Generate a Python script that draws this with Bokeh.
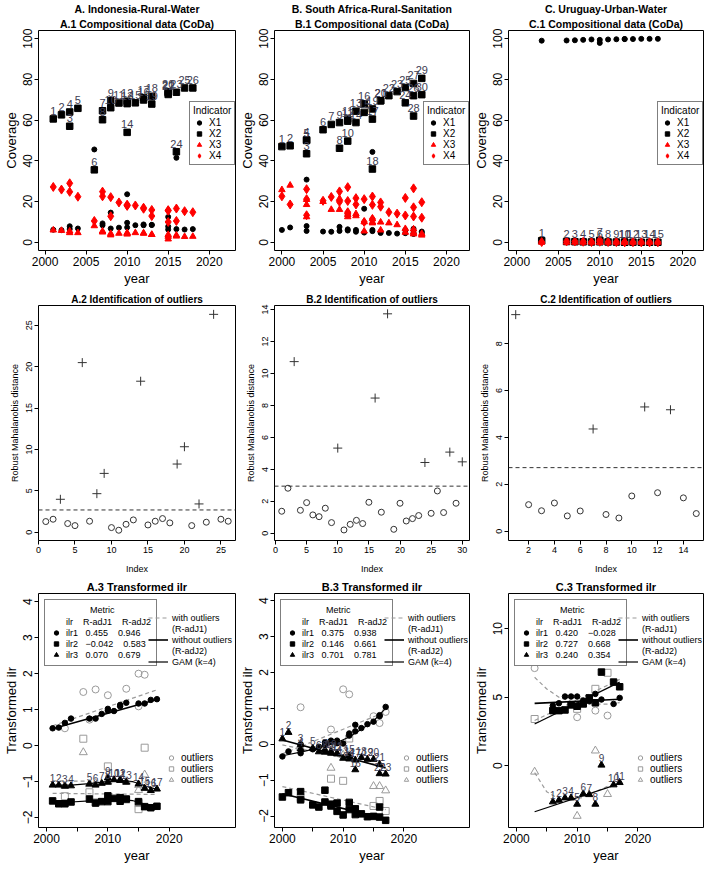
from bokeh.plotting import figure
from bokeh.layouts import gridplot
from bokeh.models import Range1d, Legend, LegendItem, Title, Span
from bokeh.embed import file_html
from bokeh.resources import INLINE
from bokeh.core.properties import value

FONT = "Liberation Sans"
LABEL_COL = "#3d3d52"
RED = "#ff0000"
GRAY = "#9a9a9a"
DARK = "#333333"

# ======================= DATA =======================
# ---------- Row 1: compositional data (coverage, %) ----------
A_year = [2001, 2002, 2003, 2003, 2004, 2006, 2007, 2007, 2008, 2008, 2009, 2010, 2010,
          2010, 2011, 2012, 2012, 2013, 2013, 2015, 2015, 2015, 2016, 2016, 2017, 2018]
A_X1 = [6.2, 6.0, 7.9, 6.5, 6.8, 45.6, 9.3, 8.4, 6.8, 14.6, 7.2, 7.3, 9.6,
        23.6, 8.4, 8.4, 8.8, 8.6, 8.5, 6.3, 7.8, 12.5, 6.5, 41.5, 6.3, 6.5]
A_X2 = [60.6, 62.6, 57.0, 64.0, 65.8, 35.6, 64.6, 60.2, 69.5, 66.1, 68.4, 69.3, 68.1,
        54.0, 68.5, 69.9, 71.0, 71.7, 67.9, 74.0, 73.4, 72.6, 73.7, 44.5, 75.8, 75.8]
A_X3 = [6.0, 5.8, 5.5, 4.7, 4.7, 8.1, 5.0, 5.5, 4.3, 3.6, 4.4, 4.7, 4.4,
        4.0, 4.7, 4.6, 4.4, 3.8, 3.8, 2.9, 1.6, 3.8, 3.5, 3.0, 2.8, 2.9]
A_X4 = [27.2, 25.9, 29.0, 24.8, 22.4, 10.5, 22.6, 24.9, 22.2, 12.8, 19.6, 18.5, 17.9,
        18.1, 18.1, 17.0, 16.5, 15.9, 12.9, 15.8, 15.5, 10.0, 16.6, 10.5, 15.3, 14.8]

B_year = [2000, 2001, 2003, 2003, 2003, 2005, 2006, 2007, 2007, 2008, 2008, 2008, 2009, 2009, 2010,
          2010, 2011, 2011, 2011, 2012, 2012, 2013, 2014, 2015, 2015, 2016, 2016, 2016, 2017, 2017]
B_X1 = [6.1, 7.3, 30.8, 8.0, 5.6, 5.3, 5.2, 7.6, 5.6, 6.4, 5.8, 13.3, 5.2, 6.1, 4.8,
        16.5, 5.5, 44.4, 6.1, 5.2, 4.6, 4.6, 4.3, 6.1, 4.5, 4.6, 4.1, 6.7, 4.6, 5.3]
B_X2 = [47.0, 47.4, 43.5, 50.3, 50.0, 55.3, 57.9, 46.2, 58.8, 49.7, 60.5, 59.5, 64.4, 58.8, 63.8,
        68.0, 60.5, 36.0, 65.5, 69.5, 69.5, 72.0, 74.0, 68.5, 76.0, 72.0, 78.0, 62.0, 80.5, 72.5]
B_X3 = [25.8, 28.0, 12.5, 21.0, 18.5, 20.0, 16.1, 21.5, 16.1, 14.8, 13.6, 12.5, 13.0, 14.0, 10.0,
        5.5, 11.5, 9.5, 10.0, 6.0, 9.9, 9.5, 8.6, 4.9, 6.7, 6.5, 4.9, 4.1, 3.5, 4.3]
B_X4 = [22.6, 18.6, 13.3, 21.2, 26.1, 20.4, 22.3, 25.0, 19.9, 27.1, 20.3, 14.8, 18.6, 21.7, 21.2,
        10.0, 22.5, 11.5, 18.4, 19.6, 17.5, 14.8, 14.1, 21.8, 13.2, 17.2, 12.7, 26.5, 12.1, 19.7]

C_year = [2003, 2006, 2007, 2008, 2009, 2010, 2010, 2011, 2012, 2013, 2013, 2014, 2015, 2016, 2017]
C_X1 = [99.0, 99.1, 99.2, 99.4, 99.6, 99.4, 97.9, 99.6, 99.7, 99.8, 99.8, 99.8, 99.9, 99.9, 99.9]
C_X2 = [0.8, 0.4, 0.3, 0.25, 0.2, 0.25, 1.0, 0.2, 0.15, 0.1, 0.1, 0.1, 0.05, 0.05, 0.05]
C_X3 = [0.05, 0.05, 0.04, 0.04, 0.03, 0.03, 0.05, 0.03, 0.02, 0.02, 0.02, 0.02, 0.02, 0.02, 0.02]
C_X4 = [0.15, 0.45, 0.46, 0.31, 0.17, 0.32, 1.05, 0.17, 0.13, 0.08, 0.08, 0.08, 0.03, 0.03, 0.03]

# ---------- Row 2: robust Mahalanobis distances ----------
A_md = [1.29, 1.57, 3.98, 1.05, 0.80, 20.5, 1.33, 4.66, 7.11, 0.56, 0.24, 0.96, 1.49,
        18.25, 0.88, 1.33, 1.65, 1.13, 8.24, 10.33, 0.80, 3.42, 1.21, 26.33, 1.57, 1.33]
A_out = [3, 6, 8, 9, 14, 19, 20, 22, 24]
A_cut = 2.69
B_md = [1.38, 2.82, 10.74, 1.44, 1.92, 1.15, 1.04, 1.57, 0.67, 5.33, 0.21, 0.56, 0.81, 0.61, 1.94,
        8.46, 1.32, 13.73, 0.25, 1.88, 0.77, 0.92, 1.11, 4.43, 1.25, 2.65, 1.30, 5.08, 1.88, 4.47]
B_out = [3, 10, 16, 18, 24, 28, 30]
B_cut = 2.95
C_md = [9.24, 1.13, 0.87, 1.20, 0.65, 0.86, 4.36, 0.71, 0.56, 1.50, 5.30, 1.64, 5.18, 1.42, 0.75]
C_out = [1, 7, 11, 13]
C_cut = 2.71

# ---------- Row 3: transformed ilr ----------
A3_year = [2001, 2002, 2003, 2004, 2007, 2008, 2009, 2010, 2010, 2011, 2012, 2012, 2013, 2015, 2016, 2017, 2018]
A3_ilr1 = [0.48, 0.50, 0.63, 0.75, 0.75, 0.75, 0.88, 0.97, 1.02, 0.96, 1.09, 1.13, 1.19, 1.17, 1.17, 1.27, 1.29]
A3_ilr2 = [-1.54, -1.62, -1.62, -1.57, -1.49, -1.60, -1.56, -1.40, -1.56, -1.47, -1.45, -1.55, -1.49, -1.56, -1.70, -1.73, -1.69]
A3_ilr3 = [-1.10, -1.10, -1.13, -1.12, -1.07, -1.10, -1.05, -1.02, -0.90, -0.95, -0.95, -0.97, -1.02, -1.07, -1.19, -1.25, -1.21]
A3o_year = [2003, 2006, 2007, 2008, 2010, 2013, 2015, 2015, 2016]
A3o_ilr1 = [0.48, 1.49, 0.72, 1.56, 1.40, 1.58, 1.09, 2.00, 1.97]
A3o_ilr2 = [-1.41, 0.19, -1.30, -1.58, -0.58, -1.50, -1.77, -1.60, -0.06]
A3o_ilr3 = [-1.12, -0.19, -1.08, -1.05, -1.00, -1.00, -1.24, -1.10, -0.81]
A3_adj1 = [0.455, -0.042, 0.070]
A3_adj2 = [0.946, 0.583, 0.679]
A3_fit_x = [2001, 2018]
A3_ilr1_dash = [0.55, 1.55]
A3_ilr1_lm = [0.47, 1.28]
A3_ilr2_dash = [-1.33, -1.36]
A3_ilr3_dash = [-0.98, -1.02]
A3_gam_x = [2001, 2004, 2007, 2010, 2012, 2014, 2016, 2018]
A3_ilr2_gam = [-1.58, -1.57, -1.54, -1.51, -1.50, -1.53, -1.63, -1.72]
A3_ilr3_gam = [-1.10, -1.10, -1.06, -1.00, -0.97, -1.00, -1.12, -1.22]

B3_year = [2000, 2001, 2003, 2003, 2005, 2006, 2007, 2007, 2008, 2008, 2009, 2009, 2010, 2011, 2011,
           2012, 2012, 2013, 2014, 2015, 2016, 2016, 2017]
B3_ilr1 = [-0.34, -0.20, -0.25, 0.00, -0.14, -0.07, 0.05, -0.02, 0.10, 0.06, 0.10, 0.03, 0.02, 0.24, 0.30,
           0.36, 0.54, 0.45, 0.56, 0.63, 0.81, 0.78, 1.04]
B3_ilr2 = [-1.47, -1.35, -1.32, -1.55, -1.69, -1.75, -1.28, -1.61, -1.67, -1.72, -1.64, -1.87, -1.97, -1.62, -1.82,
           -1.80, -1.96, -1.94, -2.02, -2.01, -2.03, -1.75, -2.12]
B3_ilr3 = [0.15, 0.33, -0.01, -0.13, -0.11, -0.21, -0.15, -0.22, -0.25, -0.20, -0.27, -0.25, -0.39, -0.41, -0.33,
           -0.71, -0.44, -0.37, -0.42, -0.42, -0.56, -0.82, -0.83]
B3o_year = [2003, 2008, 2010, 2011, 2015, 2016, 2017]
B3o_ilr1 = [1.03, 0.41, 1.53, 1.39, 0.78, 0.59, 0.90]
B3o_ilr2 = [-1.50, -0.96, -1.02, 0.16, -1.72, -1.58, -1.86]
B3o_ilr3 = [-0.10, -0.66, -0.30, -0.30, -1.17, -1.17, -1.29]
B3_adj1 = [0.375, 0.146, 0.701]
B3_adj2 = [0.938, 0.661, 0.781]
B3_fit_x = [2000, 2017]
B3_ilr1_dash = [-0.27, 0.90]
B3_gam_x = [2000, 2003, 2006, 2009, 2011, 2013, 2015, 2017]
B3_ilr1_gam = [-0.32, -0.22, -0.10, 0.05, 0.20, 0.42, 0.65, 1.00]
B3_ilr2_dash = [-1.18, -1.82]
B3_ilr2_lm = [-1.38, -2.08]
B3_ilr3_dash = [-0.02, -0.62]
B3_ilr3_lm = [0.12, -0.66]

C3_year = [2006, 2007, 2008, 2009, 2010, 2011, 2012, 2013, 2014, 2016, 2017]
C3_ilr1 = [4.39, 4.56, 5.05, 5.05, 5.05, 4.76, 4.70, 5.24, 4.83, 4.51, 4.95]
C3_ilr2 = [4.02, 4.02, 4.07, 4.44, 4.34, 4.51, 4.95, 4.59, 6.83, 6.10, 5.76]
C3_ilr3 = [-2.63, -2.51, -2.34, -2.34, -2.80, -2.05, -2.10, -2.80, 0.05, -1.39, -1.22]
C3o_year = [2003, 2010, 2013, 2015]
C3o_ilr1 = [7.12, 3.54, 4.02, 3.66]
C3o_ilr2 = [3.41, 4.15, 5.61, 6.78]
C3o_ilr3 = [-0.44, -3.66, 1.10, -2.07]
C3_adj1 = [0.420, 0.727, 0.240]
C3_adj2 = [-0.028, 0.668, 0.354]
C3_fit_x = [2003, 2017]
C3_curve_x = [2003, 2005, 2007, 2009, 2011, 2013, 2015, 2017]
C3_ilr1_dash = [6.45, 5.60, 5.00, 4.70, 4.55, 4.50, 4.50, 4.60]
C3_ilr1_lm = [4.55, 4.85]
C3_ilr2_dash = [3.30, 6.30]
C3_ilr2_lm = [3.05, 6.10]
C3_ilr3_dash = [-0.50, -1.90, -2.40, -2.50, -2.30, -1.90, -1.50, -1.20]
C3_ilr3_lm = [-3.35, -1.30]

# tick positions
YEAR_TICKS_1 = [2000, 2005, 2010, 2015, 2020]
COVER_TICKS = [0, 20, 40, 60, 80, 100]
YEAR_TICKS_3 = [2000, 2005, 2010, 2015, 2020]

# ======================= LAYOUT =======================
W = [236, 234, 234]
LB, RB = 36, 1
ROW_H = [288, 288, 289]
TOP = [28, 17, 17]
BOT = 36


def make_fig(col, row, xr, yr, titles, title_px):
    p = figure(width=W[col], height=ROW_H[row], x_range=Range1d(*xr), y_range=Range1d(*yr),
               output_backend="svg", toolbar_location=None, tools="",
               min_border_left=LB, min_border_right=RB, min_border_top=TOP[row],
               min_border_bottom=BOT, background_fill_color="white", border_fill_color="white")
    # first title line is the figure title; further lines are stacked below it (closer to the frame)
    p.title.text = titles[0]
    p.title.align = "center"
    p.title.text_font = FONT
    p.title.text_font_size = f"{title_px}px"
    p.title.text_font_style = "bold"
    p.title.text_color = "black"
    p.title.standoff = 0 if len(titles) > 1 else 2
    for t in titles[1:]:
        p.add_layout(Title(text=t, align="center", text_font=FONT, text_font_size=f"{title_px}px",
                           text_font_style="bold", text_color="black", standoff=2), "above")
    p.xgrid.visible = False
    p.ygrid.visible = False
    p.outline_line_color = "black"
    p.outline_line_alpha = 1.0
    p.outline_line_width = 1
    return p


def style_axes(p, tick_px, lab_px, xlabel, ylabel, xticks, yticks, xover=None, lab_standoff=2):
    for ax in (p.xaxis[0], p.yaxis[0]):
        ax.axis_line_color = None
        ax.major_tick_line_color = "black"
        ax.major_tick_out = 4
        ax.major_tick_in = 0
        ax.minor_tick_line_color = None
        ax.major_label_text_font = FONT
        ax.major_label_text_font_size = f"{tick_px}px"
        ax.major_label_text_color = "black"
        ax.axis_label_text_font = FONT
        ax.axis_label_text_font_size = f"{lab_px}px"
        ax.axis_label_text_font_style = "normal"
        ax.axis_label_text_color = "black"
        ax.major_label_standoff = 2
        ax.axis_label_standoff = lab_standoff
    p.xaxis.ticker = xticks
    p.yaxis.ticker = yticks
    p.yaxis.major_label_orientation = "vertical"
    if xover:
        p.xaxis.major_label_overrides = xover
    p.xaxis.axis_label = xlabel
    p.yaxis.axis_label = ylabel


def style_legend(lg, px, border=True):
    lg.label_text_font = FONT
    lg.label_text_font_size = f"{px}px"
    lg.label_text_color = "black"
    lg.title_text_font = FONT
    lg.title_text_font_size = f"{px}px"
    lg.title_text_font_style = "normal"
    lg.title_text_color = "black"
    lg.border_line_color = "black" if border else None
    lg.background_fill_alpha = 1.0 if border else 0.0
    lg.padding = 3
    lg.spacing = 0
    lg.margin = 0
    lg.glyph_width = 12
    lg.glyph_height = 11
    lg.label_height = 11
    lg.label_standoff = 4
    lg.title_standoff = 1


def coda_panel(col, year, X1, X2, X3, X4, titles, xr):
    p = make_fig(col, 0, xr, (-4, 104), titles, 10.5)
    style_axes(p, 12, 13, "year", "Coverage", YEAR_TICKS_1, COVER_TICKS)
    r1 = p.scatter(year, X1, marker="circle", size=5, color="black")
    r2 = p.scatter(year, X2, marker="square", size=6.5, color="black")
    r3 = p.scatter(year, X3, marker="triangle", size=6.5, color=RED)
    r4 = p.scatter(year, X4, marker="diamond", size=9, color=RED)
    labels = [str(i + 1) for i in range(len(year))]
    p.text(x=year, y=X2, text=labels, text_font=value(FONT), text_font_size="11px",
           text_color=LABEL_COL, text_align="center", text_baseline="bottom", y_offset=-4)
    fw = W[col] - LB - RB
    fh = ROW_H[0] - TOP[0] - BOT
    lg = Legend(items=[LegendItem(label="X1", renderers=[r1]), LegendItem(label="X2", renderers=[r2]),
                       LegendItem(label="X3", renderers=[r3]), LegendItem(label="X4", renderers=[r4])],
                title="Indicator", location=(fw - 48, int(fh * 0.38)))
    style_legend(lg, 10)
    p.add_layout(lg)
    return p


def md_panel(col, md, outl, cut, xr, yr, xticks, yticks, title):
    p = make_fig(col, 1, xr, yr, [title], 10)
    style_axes(p, 9, 9, "Index", "Robust Mahalanobis distance", xticks, yticks, lab_standoff=8)
    p.yaxis.axis_label_standoff = 4
    idx = list(range(1, len(md) + 1))
    in_x = [i for i in idx if i not in outl]
    out_x = [i for i in idx if i in outl]
    p.add_layout(Span(location=cut, dimension="width", line_dash="4 3", line_color=DARK, line_width=1))
    p.scatter(in_x, [md[i - 1] for i in in_x], marker="circle", size=6, fill_color=None,
              line_color=DARK, line_width=1)
    p.scatter(out_x, [md[i - 1] for i in out_x], marker="cross", size=9, line_color=DARK, line_width=1)
    return p


def fmt(v):
    s = f"{v:.3f}"
    return s.replace("-", "\u2212")


def ilr_panel(col, yr, yticks, title, fy, f1, f2, f3, oy, o1, o2, o3, adj1, adj2, dashes, solids):
    p = make_fig(col, 2, (1998.7, 2030.8), yr, [title], 11)
    style_axes(p, 12, 13, "year", "Transformed ilr", yticks[0], yticks[1],
               xover={2005: "", 2015: ""})
    dash_r = []
    for xs, ys in dashes:
        dash_r.append(p.line(xs, ys, line_color=GRAY, line_dash="4 3", line_width=1.2))
    g1 = p.scatter(oy, o1, marker="circle", size=7, fill_color=None, line_color=GRAY, line_width=1)
    g2 = p.scatter(oy, o2, marker="square", size=7, fill_color=None, line_color=GRAY, line_width=1)
    g3 = p.scatter(oy, o3, marker="triangle", size=8, fill_color=None, line_color=GRAY, line_width=1)
    thick_r, thin_r = [], []
    for xs, ys, lw in solids:
        rr = p.line(xs, ys, line_color="black", line_width=lw)
        (thick_r if lw > 1.4 else thin_r).append(rr)
    r1 = p.scatter(fy, f1, marker="circle", size=5.5, color="black")
    r2 = p.scatter(fy, f2, marker="square", size=6.5, color="black")
    r3 = p.scatter(fy, f3, marker="triangle", size=7, color="black")
    labels = [str(i + 1) for i in range(len(fy))]
    p.text(x=fy, y=f3, text=labels, text_font=value(FONT), text_font_size="10px",
           text_color=LABEL_COL, text_align="center", text_baseline="bottom", y_offset=-3)

    fw = W[col] - LB - RB
    fh = ROW_H[2] - TOP[2] - BOT
    nb = "\u00a0"
    blank = p.scatter([], [], marker="circle", size=1, fill_alpha=0, line_alpha=0)
    items = [LegendItem(label="ilr" + nb * 4 + "R-adJ1" + nb * 4 + "R-adJ2", renderers=[blank])]
    for k, r in enumerate((r1, r2, r3)):
        items.append(LegendItem(label=f"ilr{k + 1}" + nb * 3 + fmt(adj1[k]) + nb * 4 + fmt(adj2[k]),
                                renderers=[r]))
    mt = Legend(items=items, title=nb * 16 + "Metric", location="top_left")
    style_legend(mt, 9)
    mt.margin = 6
    mt.padding = 5
    p.add_layout(mt)

    ln = Legend(items=[LegendItem(label="with outliers", renderers=[dash_r[0]]),
                       LegendItem(label="(R-adJ1)", renderers=[blank]),
                       LegendItem(label="without outliers", renderers=[thick_r[0]]),
                       LegendItem(label="(R-adJ2)", renderers=[blank]),
                       LegendItem(label="GAM (k=4)", renderers=[thin_r[0]])],
                location=(110, fh - 76))
    style_legend(ln, 9, border=False)
    ln.glyph_width = 20
    p.add_layout(ln)

    lo = Legend(items=[LegendItem(label="outliers", renderers=[g1]),
                       LegendItem(label="outliers", renderers=[g2]),
                       LegendItem(label="outliers", renderers=[g3])],
                location=(int(fw * 0.64), 42))
    style_legend(lo, 10, border=False)
    p.add_layout(lo)
    return p


# ---------- Row 1 ----------
pA1 = coda_panel(0, A_year, A_X1, A_X2, A_X3, A_X4,
                 ["A. Indonesia-Rural-Water", "A.1 Compositional data (CoDa)"], (1999.2, 2023.2))
pB1 = coda_panel(1, B_year, B_X1, B_X2, B_X3, B_X4,
                 ["B. South Africa-Rural-Sanitation", "B.1 Compositional data (CoDa)"], (1999.1, 2022.8))
pC1 = coda_panel(2, C_year, C_X1, C_X2, C_X3, C_X4,
                 ["C. Uruguay-Urban-Water", "C.1 Compositional data (CoDa)"], (1999.0, 2022.5))

# ---------- Row 2 ----------
pA2 = md_panel(0, A_md, A_out, A_cut, (0, 27), (-1.0, 27.4), [0, 5, 10, 15, 20, 25], [0, 5, 10, 15, 20, 25],
               "A.2 Identification of outliers")
pB2 = md_panel(1, B_md, B_out, B_cut, (-0.16, 31.16), (-0.45, 14.25), [0, 5, 10, 15, 20, 25, 30],
               [0, 2, 4, 6, 8, 10, 12, 14], "B.2 Identification of outliers")
pC2 = md_panel(2, C_md, C_out, C_cut, (0.44, 15.56), (-0.4, 9.63), [2, 4, 6, 8, 10, 12, 14],
               [0, 2, 4, 6, 8], "C.2 Identification of outliers")

# ---------- Row 3 ----------
pA3 = ilr_panel(0, (-2.28, 4.23), (YEAR_TICKS_3, [-2, -1, 0, 1, 2, 3, 4]), "A.3 Transformed ilr",
                A3_year, A3_ilr1, A3_ilr2, A3_ilr3, A3o_year, A3o_ilr1, A3o_ilr2, A3o_ilr3,
                A3_adj1, A3_adj2,
                [(A3_fit_x, A3_ilr1_dash), (A3_fit_x, A3_ilr2_dash), (A3_fit_x, A3_ilr3_dash)],
                [(A3_fit_x, A3_ilr1_lm, 1.6), (A3_gam_x, A3_ilr2_gam, 1.2), (A3_gam_x, A3_ilr3_gam, 1.2)])
pB3 = ilr_panel(1, (-2.32, 4.2), (YEAR_TICKS_3, [-2, -1, 0, 1, 2, 3, 4]), "B.3 Transformed ilr",
                B3_year, B3_ilr1, B3_ilr2, B3_ilr3, B3o_year, B3o_ilr1, B3o_ilr2, B3o_ilr3,
                B3_adj1, B3_adj2,
                [(B3_fit_x, B3_ilr1_dash), (B3_fit_x, B3_ilr2_dash), (B3_fit_x, B3_ilr3_dash)],
                [(B3_gam_x, B3_ilr1_gam, 1.2), (B3_fit_x, B3_ilr2_lm, 1.6), (B3_fit_x, B3_ilr3_lm, 1.6)])
pC3 = ilr_panel(2, (-4.5, 12.56), (YEAR_TICKS_3, [0, 5, 10]), "C.3 Transformed ilr",
                C3_year, C3_ilr1, C3_ilr2, C3_ilr3, C3o_year, C3o_ilr1, C3o_ilr2, C3o_ilr3,
                C3_adj1, C3_adj2,
                [(C3_curve_x, C3_ilr1_dash), (C3_fit_x, C3_ilr2_dash), (C3_curve_x, C3_ilr3_dash)],
                [(C3_fit_x, C3_ilr1_lm, 1.6), (C3_fit_x, C3_ilr2_lm, 1.2), (C3_fit_x, C3_ilr3_lm, 1.2)])

grid = gridplot([[pA1, pB1, pC1], [pA2, pB2, pC2], [pA3, pB3, pC3]], toolbar_location=None)

with open("out.html", "w") as f:
    f.write(file_html(grid, INLINE))
